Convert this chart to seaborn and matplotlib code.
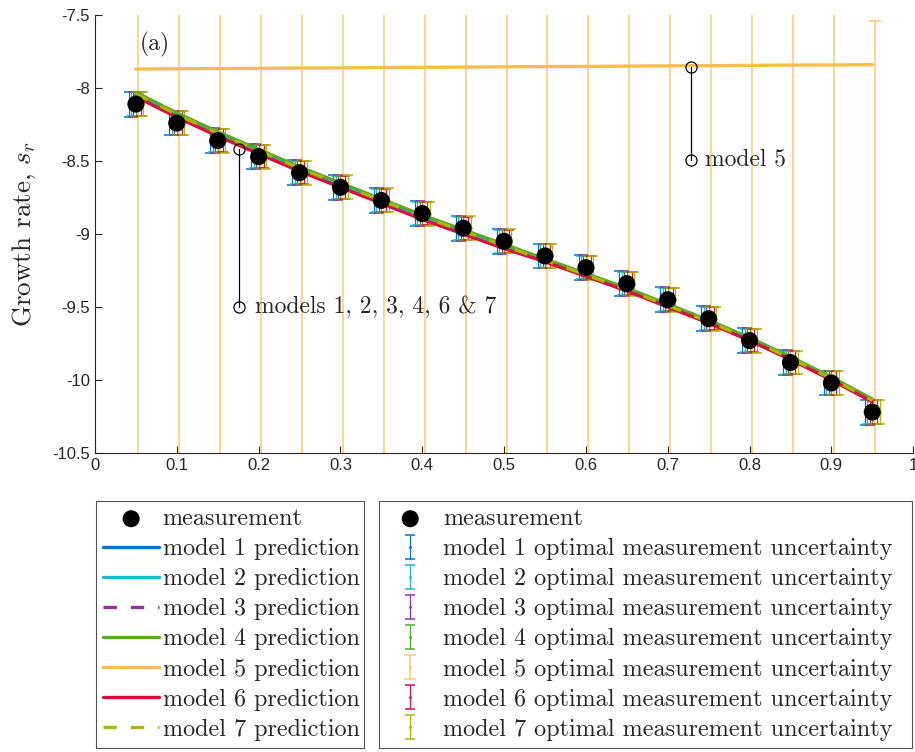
import matplotlib
matplotlib.use("Agg")
import matplotlib.pyplot as plt
import seaborn as sns
from matplotlib.ticker import FuncFormatter, MultipleLocator

# data
x = [0.05, 0.10, 0.15, 0.20, 0.25, 0.30, 0.35, 0.40, 0.45, 0.50,
     0.55, 0.60, 0.65, 0.70, 0.75, 0.80, 0.85, 0.90, 0.95]
measurement = [-8.11, -8.24, -8.36, -8.47, -8.58, -8.68, -8.77, -8.86, -8.96, -9.05,
               -9.15, -9.23, -9.34, -9.45, -9.58, -9.73, -9.88, -10.02, -10.22]

pred_m1 = [-8.05, -8.19, -8.32, -8.44, -8.56, -8.67, -8.78, -8.89, -8.99, -9.09,
           -9.18, -9.28, -9.38, -9.49, -9.60, -9.72, -9.85, -9.99, -10.14]
pred_m2 = [-8.05, -8.19, -8.32, -8.44, -8.56, -8.67, -8.78, -8.89, -8.99, -9.09,
           -9.18, -9.28, -9.38, -9.49, -9.60, -9.72, -9.85, -9.99, -10.14]
pred_m3 = [-8.05, -8.19, -8.32, -8.44, -8.56, -8.67, -8.78, -8.89, -8.99, -9.09,
           -9.18, -9.28, -9.38, -9.49, -9.60, -9.72, -9.85, -9.99, -10.14]
pred_m4 = [-8.03, -8.17, -8.30, -8.42, -8.54, -8.65, -8.76, -8.87, -8.97, -9.07,
           -9.17, -9.27, -9.37, -9.48, -9.59, -9.71, -9.84, -9.98, -10.13]
pred_m5 = [-7.870, -7.868, -7.867, -7.865, -7.863, -7.862, -7.860, -7.858, -7.857, -7.855,
           -7.853, -7.852, -7.850, -7.848, -7.847, -7.845, -7.843, -7.842, -7.840]
pred_m6 = [-8.06, -8.20, -8.33, -8.45, -8.57, -8.68, -8.79, -8.90, -9.00, -9.10,
           -9.19, -9.29, -9.39, -9.50, -9.61, -9.73, -9.86, -10.00, -10.15]
pred_m7 = [-8.04, -8.18, -8.31, -8.43, -8.55, -8.66, -8.77, -8.88, -8.98, -9.08,
           -9.18, -9.28, -9.38, -9.49, -9.60, -9.72, -9.85, -9.99, -10.14]
predictions = [pred_m1, pred_m2, pred_m3, pred_m4, pred_m5, pred_m6, pred_m7]

# half-width of the optimal measurement uncertainty for each model
uncertainty = [0.085, 0.080, 0.085, 0.080, 2.68, 0.080, 0.082]

model_names = ["model 1", "model 2", "model 3", "model 4", "model 5", "model 6", "model 7"]
colors = ["#0072D0", "#17BCC8", "#8E3596", "#5AA82A", "#F6BE4E", "#D8103F", "#A9B800"]
dashed = [False, False, True, False, False, False, True]

sns.set_theme(style="ticks")
plt.rcParams["mathtext.fontset"] = "cm"
plt.rcParams["axes.unicode_minus"] = False
serif = "cmr10"

fig = plt.figure(figsize=(9.15, 7.52), dpi=100)
ax = fig.add_axes([0.1038, 0.3976, 0.8942, 0.5824])

# error bars (each model slightly shifted so they do not overlap)
err_handles = []
for i in range(7):
    xs = [v + (i - 3) * 0.003 for v in x]
    if i == 4:
        eb = ax.errorbar(xs, measurement, yerr=uncertainty[i], fmt=".", ms=2,
                         color=colors[i], ecolor=colors[i], elinewidth=1.5,
                         capsize=4, capthick=1.5, alpha=0.6, zorder=1)
    else:
        eb = ax.errorbar(xs, measurement, yerr=uncertainty[i], fmt=".", ms=2,
                         color=colors[i], ecolor=colors[i], elinewidth=0.9,
                         capsize=3.5, capthick=1.1, zorder=2)
    err_handles.append(eb)

# model predictions
for i in range(7):
    sns.lineplot(x=x, y=predictions[i], ax=ax, color=colors[i], lw=2.4,
                 zorder=3 + i * 0.1)
    if dashed[i]:
        ax.get_lines()[-1].set_dashes((4, 4.2))
line_handles = ax.get_lines()[-7:]

# measurements
sns.scatterplot(x=x, y=measurement, ax=ax, color="black", s=150,
                edgecolor="none", zorder=5)
meas_handle = ax.collections[-1]

# annotations
ax.plot([0.728, 0.728], [-7.855, -8.49], color="black", lw=0.9, zorder=6,
        marker="o", mfc="none", mec="black", ms=8, mew=0.9)
ax.text(0.745, -8.49, "model 5", fontfamily=serif, fontsize=17, va="center")
ax.plot([0.176, 0.176], [-8.42, -9.50], color="black", lw=0.9, zorder=6,
        marker="o", mfc="none", mec="black", ms=8, mew=0.9)
ax.text(0.195, -9.50, "models 1, 2, 3, 4, 6 & 7", fontfamily=serif, fontsize=17,
        va="center")
ax.text(0.055, -7.70, "(a)", fontfamily=serif, fontsize=17, va="center")

ax.set_xlim(0, 1)
ax.set_ylim(-10.5, -7.5)
ax.xaxis.set_major_locator(MultipleLocator(0.1))
ax.yaxis.set_major_locator(MultipleLocator(0.5))
fmt = FuncFormatter(lambda v, p: "%g" % round(v, 3))
ax.xaxis.set_major_formatter(fmt)
ax.yaxis.set_major_formatter(fmt)
ax.tick_params(direction="in", length=5, width=0.8, colors="#262626",
               labelsize=12)
for lab in ax.get_xticklabels() + ax.get_yticklabels():
    lab.set_fontfamily("Liberation Sans")
ax.set_xlabel("")
ax.set_ylabel("Growth rate, $s_r$", fontfamily=serif, fontsize=19.5, labelpad=10)
sns.despine(ax=ax)
for s in ["left", "bottom"]:
    ax.spines[s].set_color("#262626")
    ax.spines[s].set_linewidth(0.8)

legend_kw = dict(frameon=True, fancybox=False, edgecolor="#262626",
                 prop={"family": serif, "size": 17.4}, borderaxespad=0,
                 labelspacing=0.33, borderpad=0.3, mode="expand")

leg1 = fig.legend([meas_handle] + line_handles,
                  ["measurement"] + [m + " prediction" for m in model_names],
                  loc="lower left", bbox_to_anchor=(0.105, 0.0053, 0.293, 0.33),
                  handlelength=2.3, handletextpad=0.15, **legend_kw)
leg1.get_frame().set_linewidth(0.8)
leg2 = fig.legend([meas_handle] + err_handles,
                  ["measurement"] + [m + " optimal measurement uncertainty" for m in model_names],
                  loc="lower left", bbox_to_anchor=(0.414, 0.0053, 0.583, 0.33),
                  handlelength=2.0, handletextpad=0.35, **legend_kw)
leg2.get_frame().set_linewidth(0.8)

fig.savefig("out.png", dpi=100)
